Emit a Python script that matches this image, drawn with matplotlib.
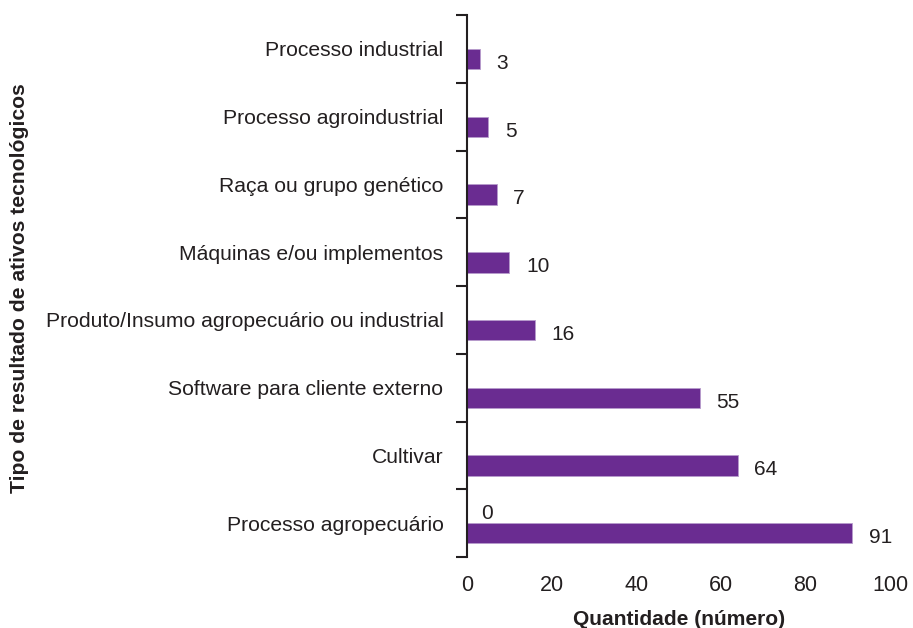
import numpy as np
import matplotlib
matplotlib.use('Agg')
import matplotlib.pyplot as plt
from matplotlib.ticker import FixedLocator

plt.rcParams['font.family'] = ['Liberation Sans', 'DejaVu Sans']

categorias = ['Processo industrial', 'Processo agroindustrial', 'Raça ou grupo genético',
              'Máquinas e/ou implementos', 'Produto/Insumo agropecuário ou industrial',
              'Software para cliente externo', 'Cultivar', 'Processo agropecuário']
quantidade = [3, 5, 7, 10, 16, 55, 64, 91]
# segunda serie, so tem valor no ultimo tipo
outra = [None, None, None, None, None, None, None, 0]

cor = '#6a2c91'
txt = '#231f20'

fig = plt.figure(figsize=(9.13, 6.28), dpi=100)
ax = fig.add_axes([0.5115, 0.113, 0.4635, 0.863])

y = np.arange(len(categorias))
larg = 0.3
ax.barh(y + larg / 2, quantidade, height=larg, color=cor, edgecolor='#b79bcc', linewidth=0.6)

for yi, v in zip(y, quantidade):
    ax.annotate(str(v), (v, yi + larg / 2), xytext=(12, -3), textcoords='offset points',
                ha='left', va='center', fontsize=15, color=txt)
for yi, v in zip(y, outra):
    if v is None:
        continue
    ax.barh(yi - larg / 2, v, height=larg, color=cor)
    ax.annotate(str(v), (v, yi - larg / 2), xytext=(10, 0), textcoords='offset points',
                ha='left', va='center', fontsize=15, color=txt)

ax.set_ylim(len(categorias) - 0.5, -0.5)
ax.set_xlim(0, 100)
ax.set_xticks([0, 20, 40, 60, 80, 100])
ax.set_yticks(y)
ax.set_yticklabels(categorias, fontsize=15.2, color=txt)
ax.yaxis.set_minor_locator(FixedLocator(np.arange(-0.5, len(categorias), 1)))
ax.tick_params(axis='y', which='major', length=0, pad=17)
ax.tick_params(axis='y', which='minor', length=8, width=1.5, color=txt)
ax.tick_params(axis='x', length=0, pad=13, labelsize=15.5, labelcolor=txt)

for s in ['top', 'right', 'bottom']:
    ax.spines[s].set_visible(False)
ax.spines['left'].set_linewidth(1.5)
ax.spines['left'].set_color(txt)

ax.set_xlabel('Quantidade (número)', fontsize=15.1, fontweight='bold', color=txt, labelpad=10)
fig.text(0.021, 0.541, 'Tipo de resultado de ativos tecnológicos', rotation=90,
         ha='center', va='center', fontsize=15.2, fontweight='bold', color=txt)

fig.savefig('out.png', dpi=100)
